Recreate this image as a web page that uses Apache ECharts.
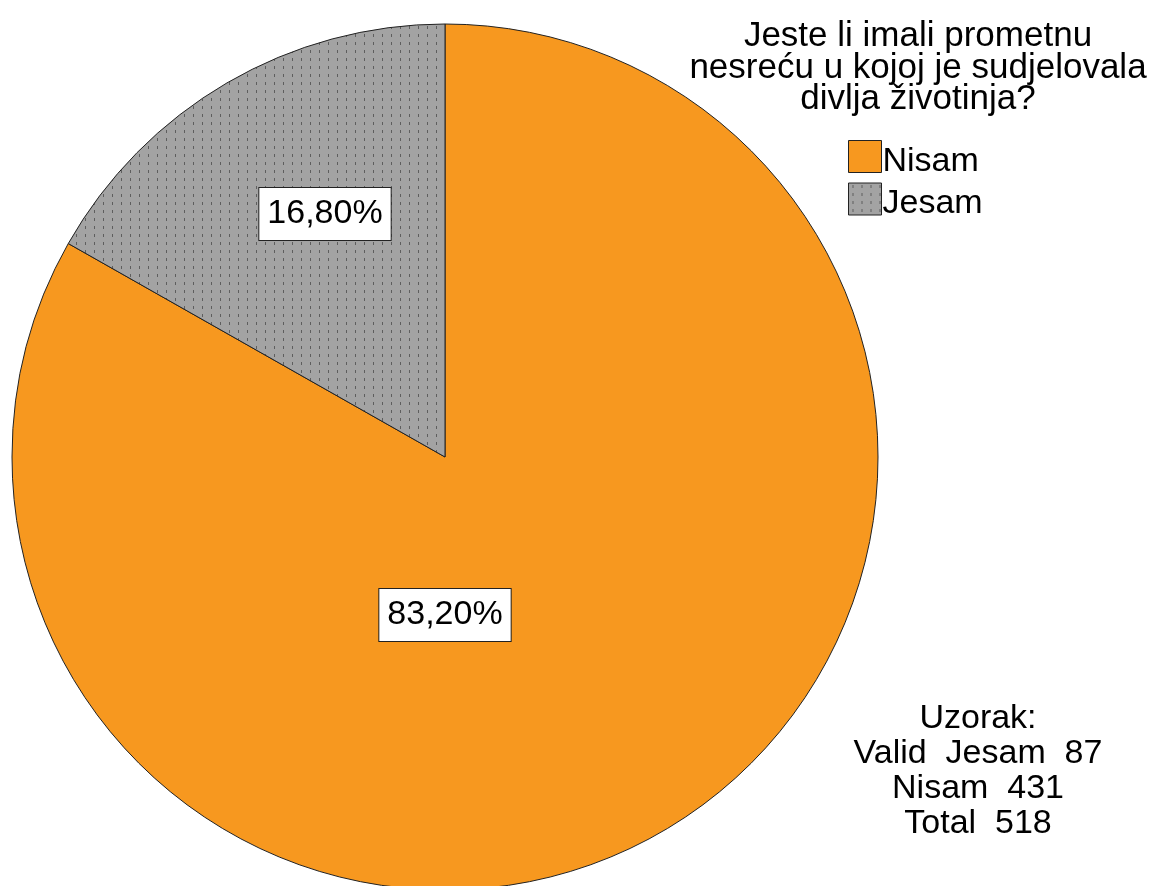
<!DOCTYPE html>
<html>
<head>
<meta charset="utf-8">
<script src="https://cdn.jsdelivr.net/npm/echarts@6/dist/echarts.min.js"></script>
<style>
  html, body { margin: 0; padding: 0; background: #fff; }
  #chart { width: 1158px; height: 886px; }
</style>
</head>
<body>
<div id="chart"></div>
<script>
// podaci
const categories = ["Nisam", "Jesam"];
const counts = [431, 87];
const colors = ["#F7981F", "#A3A3A3"];
const titleLines = ["Jeste li imali prometnu", "nesreću u kojoj je sudjelovala", "divlja životinja?"];
const sampleLabel = "Uzorak:";

const total = counts.reduce((a, b) => a + b, 0);
const fontFamily = "'Liberation Sans', Arial, sans-serif";

// uzorak s točkicama za sivi isječak
const makeDots = () => {
  const c = document.createElement("canvas");
  c.width = 9;
  c.height = 8;
  const ctx = c.getContext("2d");
  ctx.fillStyle = colors[1];
  ctx.fillRect(0, 0, 9, 8);
  ctx.fillStyle = "#5e5e5e";
  ctx.fillRect(4, 2, 1, 3);
  return c;
};

const cx = 445, cy = 457;
// pozicije oznaka relativno na središte
const labelOffsets = [[0, 158], [-120, -243]];

const chart = echarts.init(document.getElementById("chart"));

const option = {
  backgroundColor: "#fff",
  animation: false,
  textStyle: { fontFamily: fontFamily },
  title: [
    {
      text: titleLines.join("\n"),
      left: 918,
      top: 21,
      padding: 0,
      textAlign: "center",
      textStyle: { fontFamily: fontFamily, fontSize: 35, fontWeight: "normal", color: "#000", lineHeight: 31.5 }
    },
    {
      text: [sampleLabel,
             "Valid  " + categories[1] + "  " + counts[1],
             categories[0] + "  " + counts[0],
             "Total  " + total].join("\n"),
      left: 978,
      top: 701,
      padding: 0,
      textAlign: "center",
      textStyle: { fontFamily: fontFamily, fontSize: 34, fontWeight: "normal", color: "#000", lineHeight: 35 }
    }
  ],
  legend: {
    orient: "vertical",
    left: 848,
    top: 140,
    padding: 0,
    itemWidth: 33,
    itemHeight: 32,
    itemGap: 4,
    icon: "rect",
    data: categories,
    formatter: name => "{t|" + name + "}",
    textStyle: {
      fontFamily: fontFamily,
      fontSize: 34,
      color: "#000",
      rich: {
        t: { fontFamily: fontFamily, fontSize: 34, color: "#000", padding: [10, 0, 0, -4] }
      }
    },
    itemStyle: { borderColor: "#222", borderWidth: 1 }
  },
  series: [
    {
      type: "pie",
      center: [cx, cy],
      radius: 433,
      startAngle: 90,
      clockwise: true,
      silent: true,
      itemStyle: { borderColor: "#222", borderWidth: 1 },
      label: {
        show: true,
        position: "inside",
        formatter: p => p.percent.toFixed(2).replace(".", ",") + "%",
        fontFamily: fontFamily,
        fontSize: 34,
        color: "#000",
        lineHeight: 34,
        backgroundColor: "#fff",
        borderColor: "#222",
        borderWidth: 1,
        padding: [9, 8]
      },
      labelLine: { show: false },
      labelLayout: params => ({
        x: cx + labelOffsets[params.dataIndex][0],
        y: cy + labelOffsets[params.dataIndex][1],
        align: "center",
        verticalAlign: "middle"
      }),
      data: categories.map((name, i) => ({
        name: name,
        value: counts[i],
        itemStyle: {
          color: i === 1 ? { image: makeDots(), repeat: "repeat" } : colors[i]
        }
      }))
    }
  ]
};

chart.setOption(option);
</script>
</body>
</html>
